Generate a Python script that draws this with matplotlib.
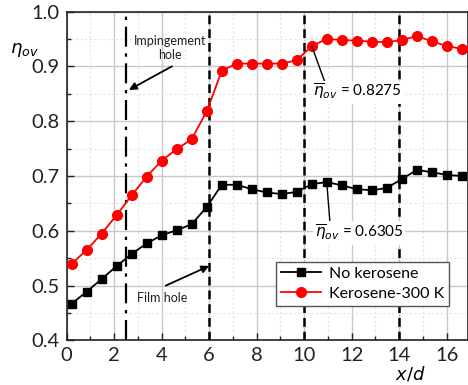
import matplotlib
matplotlib.use("Agg")
import matplotlib.pyplot as plt
from matplotlib.ticker import MultipleLocator, FormatStrFormatter

plt.rcParams['font.family'] = ['Lato', 'DejaVu Sans']
plt.rcParams['mathtext.fontset'] = 'dejavusans'

# streamwise positions x/d
x_d = [0.21, 0.84, 1.47, 2.11, 2.74, 3.37, 4.00, 4.63, 5.26, 5.91,
       6.53, 7.16, 7.79, 8.42, 9.05, 9.68, 10.32, 10.95, 11.58, 12.21,
       12.84, 13.47, 14.10, 14.74, 15.37, 16.00, 16.63]

# overall cooling effectiveness
no_kerosene = [0.467, 0.489, 0.512, 0.536, 0.558, 0.577, 0.592, 0.601, 0.612, 0.644,
               0.684, 0.684, 0.676, 0.670, 0.667, 0.671, 0.685, 0.689, 0.683, 0.676,
               0.674, 0.678, 0.694, 0.711, 0.707, 0.702, 0.700]
kerosene_300 = [0.540, 0.565, 0.595, 0.629, 0.665, 0.699, 0.728, 0.749, 0.767, 0.819,
                0.892, 0.905, 0.905, 0.905, 0.905, 0.911, 0.937, 0.950, 0.948, 0.947,
                0.945, 0.944, 0.948, 0.955, 0.946, 0.937, 0.932]

impingement_x = 2.5
film_holes = [6, 10, 14]

fig = plt.figure(figsize=(4.68, 3.85), dpi=100)
ax = fig.add_axes([0.1425, 0.1156, 0.8575, 0.8545])

ax.xaxis.set_major_locator(MultipleLocator(2))
ax.xaxis.set_minor_locator(MultipleLocator(1))
ax.yaxis.set_major_locator(MultipleLocator(0.1))
ax.yaxis.set_minor_locator(MultipleLocator(0.05))
ax.yaxis.set_major_formatter(FormatStrFormatter('%.1f'))
ax.grid(which='major', color='#c8c8c8', lw=1.0)
ax.grid(which='minor', color='#e4e4e4', lw=0.8, ls=(0, (2, 2)))
ax.set_axisbelow(True)
ax.tick_params(which='both', direction='in', top=False, right=False, labelsize=14.5, colors='#222222')
ax.tick_params(which='major', length=5, width=1, pad=5)
ax.tick_params(which='minor', length=3, width=1)
for s in ax.spines.values():
    s.set_linewidth(1.2)
    s.set_color('#222222')

ax.axvline(impingement_x, color='black', lw=1.6, ls=(0, (9, 3, 1.5, 3)), zorder=2)
for fx in film_holes:
    ax.axvline(fx, color='black', lw=1.8, ls=(0, (3.5, 2)), zorder=2)

ax.plot(x_d, no_kerosene, color='black', marker='s', ms=5.2, lw=1.3, label='No kerosene', zorder=3)
ax.plot(x_d, kerosene_300, color='red', marker='o', ms=7, lw=1.3, label='Kerosene-300 K', zorder=3)

# annotations
arrow = dict(arrowstyle='-|>', color='black', lw=1.3, shrinkA=0, shrinkB=0, mutation_scale=11)
ax.text(4.35, 0.933, 'Impingement\nhole', ha='center', va='center', fontsize=9,
        linespacing=1.25, color='#222222')
ax.annotate('', xy=(2.62, 0.857), xytext=(4.43, 0.900), arrowprops=arrow)
ax.text(4.02, 0.478, 'Film hole', ha='center', va='center', fontsize=9, color='#222222')
ax.annotate('', xy=(6.0, 0.536), xytext=(4.17, 0.500), arrowprops=arrow)

line = dict(arrowstyle='-', color='black', lw=1.0, shrinkA=0, shrinkB=0)
ax.annotate('', xy=(x_d[16], kerosene_300[16]), xytext=(10.95, 0.862), arrowprops=line)
ax.text(12.25, 0.853, r'$\overline{\eta}_{ov}$ = 0.8275', ha='center', va='center', fontsize=11,
        bbox=dict(boxstyle='square,pad=0.1', fc='white', ec='none'))
ax.annotate('', xy=(x_d[17], no_kerosene[17]), xytext=(11.09, 0.614), arrowprops=line)
ax.text(12.32, 0.596, r'$\overline{\eta}_{ov}$ = 0.6305', ha='center', va='center', fontsize=11,
        bbox=dict(boxstyle='square,pad=0.1', fc='white', ec='none'))

leg = ax.legend(loc='upper left', bbox_to_anchor=(0.5216, 0.2386), fontsize=11.5,
                frameon=True, fancybox=False, edgecolor='#555555', framealpha=1,
                handlelength=2.5, borderpad=0.3, labelspacing=0.35, handletextpad=0.5,
                borderaxespad=0)
leg.get_frame().set_linewidth(1.0)

ax.set_xlim(0, 16.9)
ax.set_ylim(0.4, 1.0)

fig.text(0.053, 0.87, r'$\eta_{ov}$', fontsize=13, ha='center', va='center')
fig.text(0.877, 0.031, r'$x/d$', fontsize=13, ha='center', va='center')

fig.savefig('out.png', dpi=100)
